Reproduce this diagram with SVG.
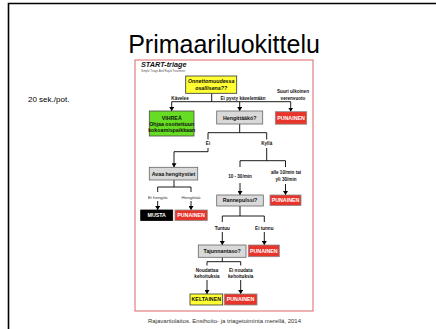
<svg xmlns="http://www.w3.org/2000/svg" width="436" height="329" viewBox="0 0 436 329">
<defs>
<marker id="ah" markerWidth="4" markerHeight="5" refX="4" refY="2.5" orient="auto" markerUnits="userSpaceOnUse">
<path d="M0,0 L4,2.5 L0,5 Z" fill="#000"/>
</marker>
<style>
.bx{stroke-width:0.8}
.grey{fill:#d9d9d9;stroke:#666}
.red{fill:#e8352c;stroke:#8a8a8a}
.green{fill:#66dd22;stroke:#4a4a4a}
.yellow{fill:#ffff33;stroke:#333}
.black{fill:#000;stroke:#000}
.t{font-family:"Liberation Sans",Arial,sans-serif;font-weight:bold;text-anchor:middle;font-size:5.3px;fill:#111}
.w{fill:#fff}
.lb{font-family:"Liberation Sans",Arial,sans-serif;font-weight:bold;text-anchor:middle;font-size:4.6px;fill:#111}
.lr{font-family:"Liberation Sans",Arial,sans-serif;font-weight:normal;text-anchor:middle;font-size:4.4px;fill:#333}
.cn line,.cn path{stroke:#000;stroke-width:0.9;fill:none}
</style>
</defs>
<rect x="0" y="0" width="436" height="329" fill="#fff"/>
<path d="M436,3.5 H8.5 V329" fill="none" stroke="#000" stroke-width="1.6"/>
<text x="224" y="53" font-family="Liberation Sans, Arial, sans-serif" font-size="25" text-anchor="middle" fill="#000">Primaariluokittelu</text>
<text x="28" y="102" font-family="Liberation Sans, Arial, sans-serif" font-size="8" fill="#000">20 sek./pot.</text>
<text x="224.5" y="323" font-family="Liberation Sans, Arial, sans-serif" font-size="6" text-anchor="middle" fill="#333">Rajavartiolaitos. Ensihoito- ja triagetoiminta merellä, 2014</text>

<rect x="135" y="60" width="178" height="251" fill="#fff" stroke="#e06666" stroke-width="1"/>
<text x="141" y="67" font-family="Liberation Sans, Arial, sans-serif" font-size="7.3" font-weight="bold" font-style="italic" fill="#111">START-triage</text>
<text x="141" y="72" font-family="Liberation Sans, Arial, sans-serif" font-size="2.8" fill="#555">Simple Triage And Rapid Treatment</text>

<g class="cn" id="connectors">
<line x1="211.7" y1="93.3" x2="211.7" y2="101.7"/>
<line x1="171.7" y1="101.7" x2="290.7" y2="101.7"/>
<line x1="171.7" y1="101.7" x2="171.7" y2="111" marker-end="url(#ah)"/>
<line x1="239.7" y1="101.7" x2="239.7" y2="111" marker-end="url(#ah)"/>
<line x1="290.7" y1="101.7" x2="290.7" y2="111.7" marker-end="url(#ah)"/>
<path d="M239.7,124 V132.7 M208,139.5 V132.7 H266.7 V139.5"/>
<path d="M208,148 V151.7 H174"/>
<line x1="174" y1="151.7" x2="174" y2="167.3" marker-end="url(#ah)"/>
<path d="M266.7,148 V160.7 M240,167 V160.7 H285.5 V167"/>
<line x1="240" y1="183" x2="240" y2="195" marker-end="url(#ah)"/>
<line x1="285.5" y1="184" x2="285.5" y2="195" marker-end="url(#ah)"/>
<path d="M174,180 V187 M157.7,192 V187 H191 V192"/>
<line x1="157.7" y1="201" x2="157.7" y2="210" marker-end="url(#ah)"/>
<line x1="191" y1="201" x2="191" y2="210" marker-end="url(#ah)"/>
<path d="M240,206 V216 M222.3,222 V216 H264.3 V222"/>
<line x1="222.3" y1="232" x2="222.3" y2="245" marker-end="url(#ah)"/>
<line x1="264.3" y1="232" x2="264.3" y2="245" marker-end="url(#ah)"/>
<path d="M222.3,257.3 V261.7 M207,265.5 V261.7 H240.7 V265.5"/>
<line x1="207" y1="280" x2="207" y2="294" marker-end="url(#ah)"/>
<line x1="240.7" y1="280" x2="240.7" y2="294" marker-end="url(#ah)"/>
</g>

<g id="edge-labels">
<text class="lb" x="180" y="100">Kävelee</text>
<text class="lb" x="243" y="100">Ei pysty kävelemään</text>
<text class="lb" x="293" y="93">Suuri ulkoinen</text>
<text class="lb" x="293" y="99.5">verenvuoto</text>
<text class="lb" x="208" y="145">Ei</text>
<text class="lb" x="266.7" y="145">Kyllä</text>
<text class="lr" x="157.7" y="198.8">Ei hengitä</text>
<text class="lr" x="191" y="198.8">Hengittää</text>
<text class="lb" x="240" y="177.5">10 - 30/min</text>
<text class="lb" x="286" y="174">alle 10/min tai</text>
<text class="lb" x="286" y="181">yli 30/min</text>
<text class="lb" x="222.3" y="229.5">Tuntuu</text>
<text class="lb" x="264.3" y="229.5">Ei tunnu</text>
<text class="lb" x="207" y="272">Noudattaa</text>
<text class="lb" x="207" y="278">kehoituksia</text>
<text class="lb" x="240.7" y="272">Ei noudata</text>
<text class="lb" x="240.7" y="278">kehoituksia</text>
</g>

<g id="n-onnettomuus">
<rect class="bx yellow" x="185.7" y="76" width="51" height="17.3"/>
<text class="t" x="211.2" y="83.3" font-style="italic">Onnettomuudessa</text>
<text class="t" x="211.2" y="90" font-style="italic">osallisena??</text>
</g>
<g id="n-vihrea">
<rect class="bx green" x="149.3" y="111" width="44.7" height="25"/>
<text class="t" x="171.7" y="119.5" font-size="5.8">VIHREÄ</text>
<text class="t" x="171.7" y="126" font-size="3.8">Ohjaa osoitettuun</text>
<text class="t" x="171.7" y="131.5" font-size="3.8">kokoamispaikkaan</text>
</g>
<g id="n-hengittaako">
<rect class="bx grey" x="216.7" y="111" width="46" height="13"/>
<text class="t" x="239.7" y="119.5" font-size="5.5">Hengittääkö?</text>
</g>
<g id="n-punainen1">
<rect class="bx red" x="275.3" y="111.7" width="31.4" height="12.5"/>
<text class="t w" x="291" y="119.8">PUNAINEN</text>
</g>
<g id="n-avaa">
<rect class="bx grey" x="149.3" y="167.3" width="48.4" height="12.7"/>
<text class="t" x="173.5" y="175.5">Avaa hengitystiet</text>
</g>
<g id="n-musta">
<rect class="bx black" x="140.7" y="210" width="32" height="10.5"/>
<text class="t w" x="156.7" y="217.1">MUSTA</text>
</g>
<g id="n-punainen2">
<rect class="bx red" x="175" y="210" width="32.3" height="10.5"/>
<text class="t w" x="191.1" y="217.1">PUNAINEN</text>
</g>
<g id="n-rannepulssi">
<rect class="bx grey" x="216.7" y="195" width="46.6" height="11"/>
<text class="t" x="240" y="202.4" font-size="5.5">Rannepulssi?</text>
</g>
<g id="n-punainen3">
<rect class="bx red" x="270" y="195" width="31" height="10.5"/>
<text class="t w" x="285.5" y="202.1">PUNAINEN</text>
</g>
<g id="n-tajunnantaso">
<rect class="bx grey" x="198.3" y="245" width="47.7" height="12.3"/>
<text class="t" x="222.2" y="253" font-size="5.5">Tajunnantaso?</text>
</g>
<g id="n-punainen4">
<rect class="bx red" x="248.3" y="245" width="31" height="11.7"/>
<text class="t w" x="263.8" y="252.7">PUNAINEN</text>
</g>
<g id="n-keltainen">
<rect class="bx yellow" x="190" y="294" width="32.7" height="11"/>
<text class="t" x="206.3" y="301.4">KELTAINEN</text>
</g>
<g id="n-punainen5">
<rect class="bx red" x="224.3" y="294" width="32.7" height="11"/>
<text class="t w" x="240.6" y="301.4">PUNAINEN</text>
</g>
</svg>
